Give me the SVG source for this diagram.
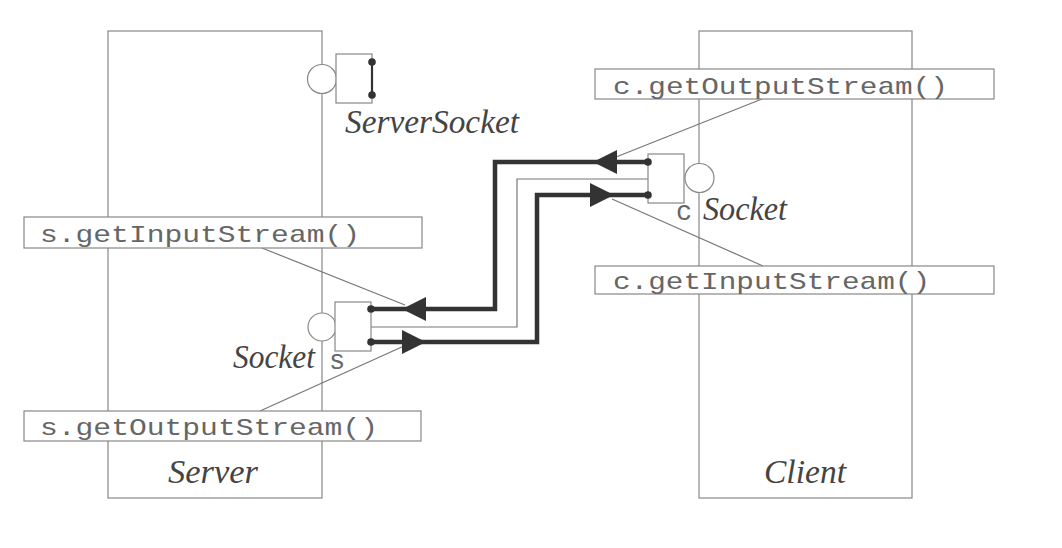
<svg xmlns="http://www.w3.org/2000/svg" width="1062" height="548" viewBox="0 0 1062 548">
<style>
.frame{fill:#fff;stroke:#888;stroke-width:1.2}
.box{fill:#fff;stroke:#888;stroke-width:1.2}
.mono{font-family:"Liberation Mono","Courier New",monospace;font-size:24px;fill:#666}
.lbl{font-family:"Liberation Mono","Courier New",monospace;font-size:27px;fill:#666}
.ital{font-family:"Liberation Serif","Times New Roman",serif;font-style:italic;font-size:33px;fill:#444}
.thin{fill:none;stroke:#777;stroke-width:1.2}
.thick{fill:none;stroke:#333;stroke-width:4.5;stroke-linejoin:miter}
.dot{fill:#333}
.arrow{fill:#333}
.plug{fill:#fff;stroke:#888;stroke-width:1.2}
</style>
<defs>
<path id="arrowL" d="M0,0 L24,-12 L24,12 Z"/>
<path id="arrowR" d="M0,-12 L24,0 L0,12 Z"/>
</defs>
<g id="server">
<rect class="frame" x="108" y="31" width="214" height="467"/>
<text class="ital" x="168" y="483" textLength="90" lengthAdjust="spacingAndGlyphs">Server</text>
</g>
<g id="client">
<rect class="frame" x="699" y="31" width="213" height="467"/>
<text class="ital" x="764" y="483" textLength="82" lengthAdjust="spacingAndGlyphs">Client</text>
</g>
<g id="connectors">
<path class="thin" d="M262,248 L405,305"/>
<path class="thin" d="M260,411 L404,346"/>
<path class="thin" d="M762,99 L616,157"/>
<path class="thin" d="M763,266 L612,199"/>
<path class="thick" d="M371,309 H495 V162 H648"/>
<path class="thin" d="M371,327 H517 V179 H648"/>
<path class="thick" d="M371,342 H537 V195 H648"/>
<use href="#arrowL" class="arrow" x="402" y="309"/>
<use href="#arrowL" class="arrow" x="593" y="162"/>
<use href="#arrowR" class="arrow" x="402" y="342"/>
<use href="#arrowR" class="arrow" x="590" y="195"/>
</g>
<g id="serversocket">
<circle class="plug" cx="322" cy="79" r="14.5"/>
<rect class="box" x="336" y="54" width="36" height="49"/>
<line x1="372" y1="62" x2="372" y2="95" stroke="#333" stroke-width="2.2"/>
<circle class="dot" cx="372" cy="62" r="3.8"/>
<circle class="dot" cx="372" cy="95" r="3.8"/>
<text class="ital" x="345" y="133" textLength="174" lengthAdjust="spacingAndGlyphs">ServerSocket</text>
</g>
<g id="socket-s">
<circle class="plug" cx="322" cy="327" r="14"/>
<rect class="box" x="335" y="302" width="36" height="49"/>
<circle class="dot" cx="371" cy="309" r="3.8"/>
<circle class="dot" cx="371" cy="342" r="3.8"/>
<text class="ital" x="233" y="368" textLength="82" lengthAdjust="spacingAndGlyphs">Socket</text>
<text class="lbl" x="329" y="369">s</text>
</g>
<g id="socket-c">
<circle class="plug" cx="699.5" cy="178" r="14.5"/>
<rect class="box" x="648" y="154" width="36" height="49"/>
<circle class="dot" cx="648" cy="162" r="3.8"/>
<circle class="dot" cx="648" cy="195" r="3.8"/>
<text class="lbl" x="676" y="220">c</text>
<text class="ital" x="703" y="220" textLength="84" lengthAdjust="spacingAndGlyphs">Socket</text>
</g>
<g id="s-getInputStream">
<rect class="box" x="24" y="217" width="398" height="31"/>
<text class="mono" x="40" y="242" textLength="320" lengthAdjust="spacingAndGlyphs">s.getInputStream()</text>
</g>
<g id="s-getOutputStream">
<rect class="box" x="24" y="411" width="397" height="30"/>
<text class="mono" x="40" y="435" textLength="338" lengthAdjust="spacingAndGlyphs">s.getOutputStream()</text>
</g>
<g id="c-getOutputStream">
<rect class="box" x="595" y="69" width="399" height="30"/>
<text class="mono" x="613" y="94" textLength="335" lengthAdjust="spacingAndGlyphs">c.getOutputStream()</text>
</g>
<g id="c-getInputStream">
<rect class="box" x="595" y="266" width="399" height="28"/>
<text class="mono" x="613" y="289" textLength="317" lengthAdjust="spacingAndGlyphs">c.getInputStream()</text>
</g>
</svg>
